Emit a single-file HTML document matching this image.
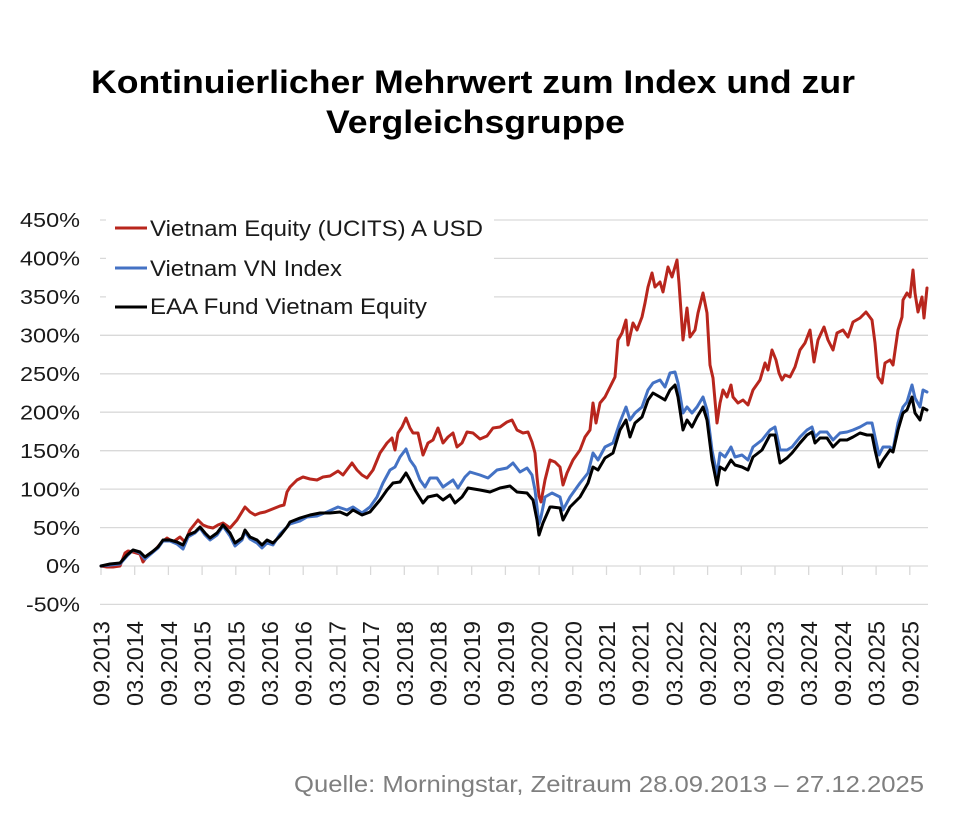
<!DOCTYPE html>
<html>
<head>
<meta charset="utf-8">
<style>
  html,body{margin:0;padding:0;background:#fff;}
  svg{display:block;}
  text{font-family:"Liberation Sans", Arial, sans-serif;}
</style>
</head>
<body>
<svg width="970" height="838" viewBox="0 0 970 838" xmlns="http://www.w3.org/2000/svg">
  <rect width="970" height="838" fill="#fff"/>
  <!-- Title -->
  <text x="91" y="93" font-size="32.5" font-weight="bold" fill="#000" textLength="764" lengthAdjust="spacingAndGlyphs">Kontinuierlicher Mehrwert zum Index und zur</text>
  <text x="326" y="133" font-size="32.5" font-weight="bold" fill="#000" textLength="299" lengthAdjust="spacingAndGlyphs">Vergleichsgruppe</text>

  <!-- Gridlines -->
  <g stroke="#d9d9d9" stroke-width="1.3">
    <line x1="100" y1="220" x2="928" y2="220"/>
    <line x1="100" y1="258.4" x2="928" y2="258.4"/>
    <line x1="100" y1="296.9" x2="928" y2="296.9"/>
    <line x1="100" y1="335.3" x2="928" y2="335.3"/>
    <line x1="100" y1="373.8" x2="928" y2="373.8"/>
    <line x1="100" y1="412.2" x2="928" y2="412.2"/>
    <line x1="100" y1="450.7" x2="928" y2="450.7"/>
    <line x1="100" y1="489.1" x2="928" y2="489.1"/>
    <line x1="100" y1="527.6" x2="928" y2="527.6"/>
    <line x1="100" y1="566" x2="928" y2="566"/>
    <line x1="100" y1="604.4" x2="928" y2="604.4"/>
  </g>
  <!-- Ticks -->
  <g stroke="#d9d9d9" stroke-width="1.3">
    <line x1="101" y1="566" x2="101" y2="575"/>
    <line x1="134.7" y1="566" x2="134.7" y2="575"/>
    <line x1="168.4" y1="566" x2="168.4" y2="575"/>
    <line x1="202.1" y1="566" x2="202.1" y2="575"/>
    <line x1="235.8" y1="566" x2="235.8" y2="575"/>
    <line x1="269.5" y1="566" x2="269.5" y2="575"/>
    <line x1="303.2" y1="566" x2="303.2" y2="575"/>
    <line x1="336.9" y1="566" x2="336.9" y2="575"/>
    <line x1="370.6" y1="566" x2="370.6" y2="575"/>
    <line x1="404.3" y1="566" x2="404.3" y2="575"/>
    <line x1="438" y1="566" x2="438" y2="575"/>
    <line x1="471.7" y1="566" x2="471.7" y2="575"/>
    <line x1="505.4" y1="566" x2="505.4" y2="575"/>
    <line x1="539.1" y1="566" x2="539.1" y2="575"/>
    <line x1="572.8" y1="566" x2="572.8" y2="575"/>
    <line x1="606.5" y1="566" x2="606.5" y2="575"/>
    <line x1="640.2" y1="566" x2="640.2" y2="575"/>
    <line x1="673.9" y1="566" x2="673.9" y2="575"/>
    <line x1="707.6" y1="566" x2="707.6" y2="575"/>
    <line x1="741.3" y1="566" x2="741.3" y2="575"/>
    <line x1="775" y1="566" x2="775" y2="575"/>
    <line x1="808.7" y1="566" x2="808.7" y2="575"/>
    <line x1="842.4" y1="566" x2="842.4" y2="575"/>
    <line x1="876.1" y1="566" x2="876.1" y2="575"/>
    <line x1="909.8" y1="566" x2="909.8" y2="575"/>
  </g>

  <!-- Y labels -->
  <g font-size="20" fill="#1a1a1a" text-anchor="end">
    <text x="80" y="227.2" textLength="60" lengthAdjust="spacingAndGlyphs">450%</text>
    <text x="80" y="265.6" textLength="60" lengthAdjust="spacingAndGlyphs">400%</text>
    <text x="80" y="304.1" textLength="60" lengthAdjust="spacingAndGlyphs">350%</text>
    <text x="80" y="342.5" textLength="60" lengthAdjust="spacingAndGlyphs">300%</text>
    <text x="80" y="381" textLength="60" lengthAdjust="spacingAndGlyphs">250%</text>
    <text x="80" y="419.4" textLength="60" lengthAdjust="spacingAndGlyphs">200%</text>
    <text x="80" y="457.9" textLength="60" lengthAdjust="spacingAndGlyphs">150%</text>
    <text x="80" y="496.3" textLength="60" lengthAdjust="spacingAndGlyphs">100%</text>
    <text x="80" y="534.8" textLength="47" lengthAdjust="spacingAndGlyphs">50%</text>
    <text x="80" y="573.2" textLength="34" lengthAdjust="spacingAndGlyphs">0%</text>
    <text x="80" y="611.6" textLength="54" lengthAdjust="spacingAndGlyphs">-50%</text>
  </g>

  <!-- X labels -->
  <g font-size="23" fill="#1a1a1a" text-anchor="end">
    <text transform="translate(109.5,621) rotate(-90)" textLength="85" lengthAdjust="spacingAndGlyphs">09.2013</text>
    <text transform="translate(143.2,621) rotate(-90)" textLength="85" lengthAdjust="spacingAndGlyphs">03.2014</text>
    <text transform="translate(176.9,621) rotate(-90)" textLength="85" lengthAdjust="spacingAndGlyphs">09.2014</text>
    <text transform="translate(210.6,621) rotate(-90)" textLength="85" lengthAdjust="spacingAndGlyphs">03.2015</text>
    <text transform="translate(244.3,621) rotate(-90)" textLength="85" lengthAdjust="spacingAndGlyphs">09.2015</text>
    <text transform="translate(278,621) rotate(-90)" textLength="85" lengthAdjust="spacingAndGlyphs">03.2016</text>
    <text transform="translate(311.7,621) rotate(-90)" textLength="85" lengthAdjust="spacingAndGlyphs">09.2016</text>
    <text transform="translate(345.4,621) rotate(-90)" textLength="85" lengthAdjust="spacingAndGlyphs">03.2017</text>
    <text transform="translate(379.1,621) rotate(-90)" textLength="85" lengthAdjust="spacingAndGlyphs">09.2017</text>
    <text transform="translate(412.8,621) rotate(-90)" textLength="85" lengthAdjust="spacingAndGlyphs">03.2018</text>
    <text transform="translate(446.5,621) rotate(-90)" textLength="85" lengthAdjust="spacingAndGlyphs">09.2018</text>
    <text transform="translate(480.2,621) rotate(-90)" textLength="85" lengthAdjust="spacingAndGlyphs">03.2019</text>
    <text transform="translate(513.9,621) rotate(-90)" textLength="85" lengthAdjust="spacingAndGlyphs">09.2019</text>
    <text transform="translate(547.6,621) rotate(-90)" textLength="85" lengthAdjust="spacingAndGlyphs">03.2020</text>
    <text transform="translate(581.3,621) rotate(-90)" textLength="85" lengthAdjust="spacingAndGlyphs">09.2020</text>
    <text transform="translate(615,621) rotate(-90)" textLength="85" lengthAdjust="spacingAndGlyphs">03.2021</text>
    <text transform="translate(648.7,621) rotate(-90)" textLength="85" lengthAdjust="spacingAndGlyphs">09.2021</text>
    <text transform="translate(682.4,621) rotate(-90)" textLength="85" lengthAdjust="spacingAndGlyphs">03.2022</text>
    <text transform="translate(716.1,621) rotate(-90)" textLength="85" lengthAdjust="spacingAndGlyphs">09.2022</text>
    <text transform="translate(749.8,621) rotate(-90)" textLength="85" lengthAdjust="spacingAndGlyphs">03.2023</text>
    <text transform="translate(783.5,621) rotate(-90)" textLength="85" lengthAdjust="spacingAndGlyphs">09.2023</text>
    <text transform="translate(817.2,621) rotate(-90)" textLength="85" lengthAdjust="spacingAndGlyphs">03.2024</text>
    <text transform="translate(850.9,621) rotate(-90)" textLength="85" lengthAdjust="spacingAndGlyphs">09.2024</text>
    <text transform="translate(884.6,621) rotate(-90)" textLength="85" lengthAdjust="spacingAndGlyphs">03.2025</text>
    <text transform="translate(918.3,621) rotate(-90)" textLength="85" lengthAdjust="spacingAndGlyphs">09.2025</text>
  </g>

  <!-- Series -->
  <g fill="none" stroke-width="3" stroke-linejoin="round" stroke-linecap="round">
    <polyline stroke="#b8261d" points="101,566 107,567 113,567 120,566 125,553 128,551 133,552 140,554 143,562 148,555 155,550 162,542 167,538 173,542 180,537 185,542 190,530 198,520 203,525 208,527 213,528 218,525 223,523 230,528 237,520 245,507 250,512 255,515 260,513 265,512 270,510 280,506 284,505 287,492 290,487 297,480 303,477 310,479 317,480 323,477 330,476 338,471 343,475 352,463 357,470 362,475 367,478 373,470 380,453 387,443 392,438 395,450 398,433 402,427 406,418 410,428 413,433 418,433 423,455 428,443 433,440 438,428 443,443 448,437 453,433 457,447 462,443 467,432 473,433 480,439 487,436 493,428 500,427 507,422 512,420 517,430 523,433 528,432 532,442 535,453 537,477 539,496 541,502 545,480 550,460 555,462 560,467 563,485 567,473 573,460 580,450 585,437 590,430 593,403 596,423 600,403 605,397 610,387 615,377 618,340 622,333 626,320 628,345 633,323 637,330 642,317 645,303 648,287 652,273 655,287 660,282 663,292 668,267 672,277 677,260 679,283 683,340 687,308 690,337 695,330 698,313 703,293 707,313 710,365 713,378 717,423 720,403 723,390 727,397 731,385 733,397 738,403 743,400 748,405 753,390 760,380 765,363 768,370 772,350 776,360 779,373 782,380 785,375 790,377 795,367 800,350 805,343 810,330 814,362 818,340 824,327 828,340 833,350 837,333 843,330 848,337 853,322 860,318 866,312 872,320 875,343 878,377 882,383 885,363 890,360 893,365 898,330 902,317 903,300 907,293 910,297 913,270 915,293 918,312 922,297 924,318 927,288"/>
    <polyline stroke="#4472c4" points="101,566 110,565 120,564 127,556 133,550 140,553 145,559 152,553 158,548 163,541 170,541 177,544 183,549 188,537 195,533 200,528 205,535 210,540 217,535 223,526 230,536 235,546 242,540 245,532 250,539 257,543 262,548 267,543 273,545 280,534 290,524 300,521 307,517 317,516 327,512 338,507 347,510 353,507 362,513 370,507 377,497 383,483 390,470 395,467 400,457 406,449 410,460 415,467 420,480 425,487 430,478 437,478 443,487 453,480 458,488 465,477 470,472 480,475 488,478 497,470 507,468 513,463 520,472 527,468 532,475 535,490 539,524 541,517 545,497 552,493 560,497 563,510 570,497 580,483 588,473 593,453 598,460 605,447 613,443 620,422 626,407 630,420 635,413 642,407 648,390 653,383 660,380 665,387 670,373 675,372 678,383 683,413 687,407 692,413 697,407 703,397 707,410 712,450 717,475 720,453 725,457 731,447 735,457 742,455 748,460 753,447 762,440 770,430 775,427 780,450 787,450 792,447 800,437 807,430 812,427 815,437 820,432 827,432 833,440 840,433 847,432 853,430 860,427 867,423 872,423 875,437 879,455 883,447 890,447 893,450 898,423 903,407 907,402 912,385 915,398 920,407 923,390 927,392"/>
    <polyline stroke="#000000" points="101,566 110,564 120,563 127,555 133,550 140,552 145,557 152,552 158,547 163,540 170,540 177,542 183,545 188,535 195,532 200,527 205,533 210,538 217,533 223,525 230,533 235,543 242,538 245,530 250,537 257,540 262,545 267,540 273,543 280,536 287,527 290,522 300,518 310,515 320,513 330,513 340,512 347,515 353,510 362,515 370,512 380,500 387,490 393,483 400,482 406,473 410,480 415,490 423,503 428,497 437,495 443,500 450,495 455,503 462,497 468,488 480,490 490,492 500,488 510,486 517,492 527,493 533,500 537,520 539,535 543,523 550,507 552,507 560,508 563,520 570,507 580,497 588,483 593,467 598,470 605,458 613,453 620,430 626,420 630,437 635,423 642,417 648,400 653,393 660,397 665,400 670,390 675,385 678,397 683,430 687,420 692,427 697,417 703,407 707,420 712,460 717,485 720,467 725,470 731,460 735,465 742,467 748,470 753,457 762,450 770,435 775,435 780,463 787,458 792,453 800,443 807,435 812,432 815,443 820,438 827,438 833,447 840,440 847,440 853,437 860,433 867,435 872,435 875,450 879,467 883,460 890,450 893,452 898,430 903,413 907,410 912,397 915,413 920,420 923,408 927,410"/>
  </g>

  <!-- Legend -->
  <rect x="106" y="212" width="388" height="110" fill="#fff"/>
  <g stroke-width="3">
    <line x1="115" y1="228" x2="147" y2="228" stroke="#b8261d"/>
    <line x1="115" y1="268" x2="147" y2="268" stroke="#4472c4"/>
    <line x1="115" y1="307" x2="147" y2="307" stroke="#000"/>
  </g>
  <g font-size="22" fill="#1a1a1a">
    <text x="150" y="236" textLength="333" lengthAdjust="spacingAndGlyphs">Vietnam Equity (UCITS) A USD</text>
    <text x="150" y="276" textLength="192" lengthAdjust="spacingAndGlyphs">Vietnam VN Index</text>
    <text x="150" y="314" textLength="277" lengthAdjust="spacingAndGlyphs">EAA Fund Vietnam Equity</text>
  </g>

  <!-- Source -->
  <text x="294" y="792" font-size="23" fill="#7f7f7f" textLength="630" lengthAdjust="spacingAndGlyphs">Quelle: Morningstar, Zeitraum 28.09.2013 – 27.12.2025</text>
</svg>
</body>
</html>
